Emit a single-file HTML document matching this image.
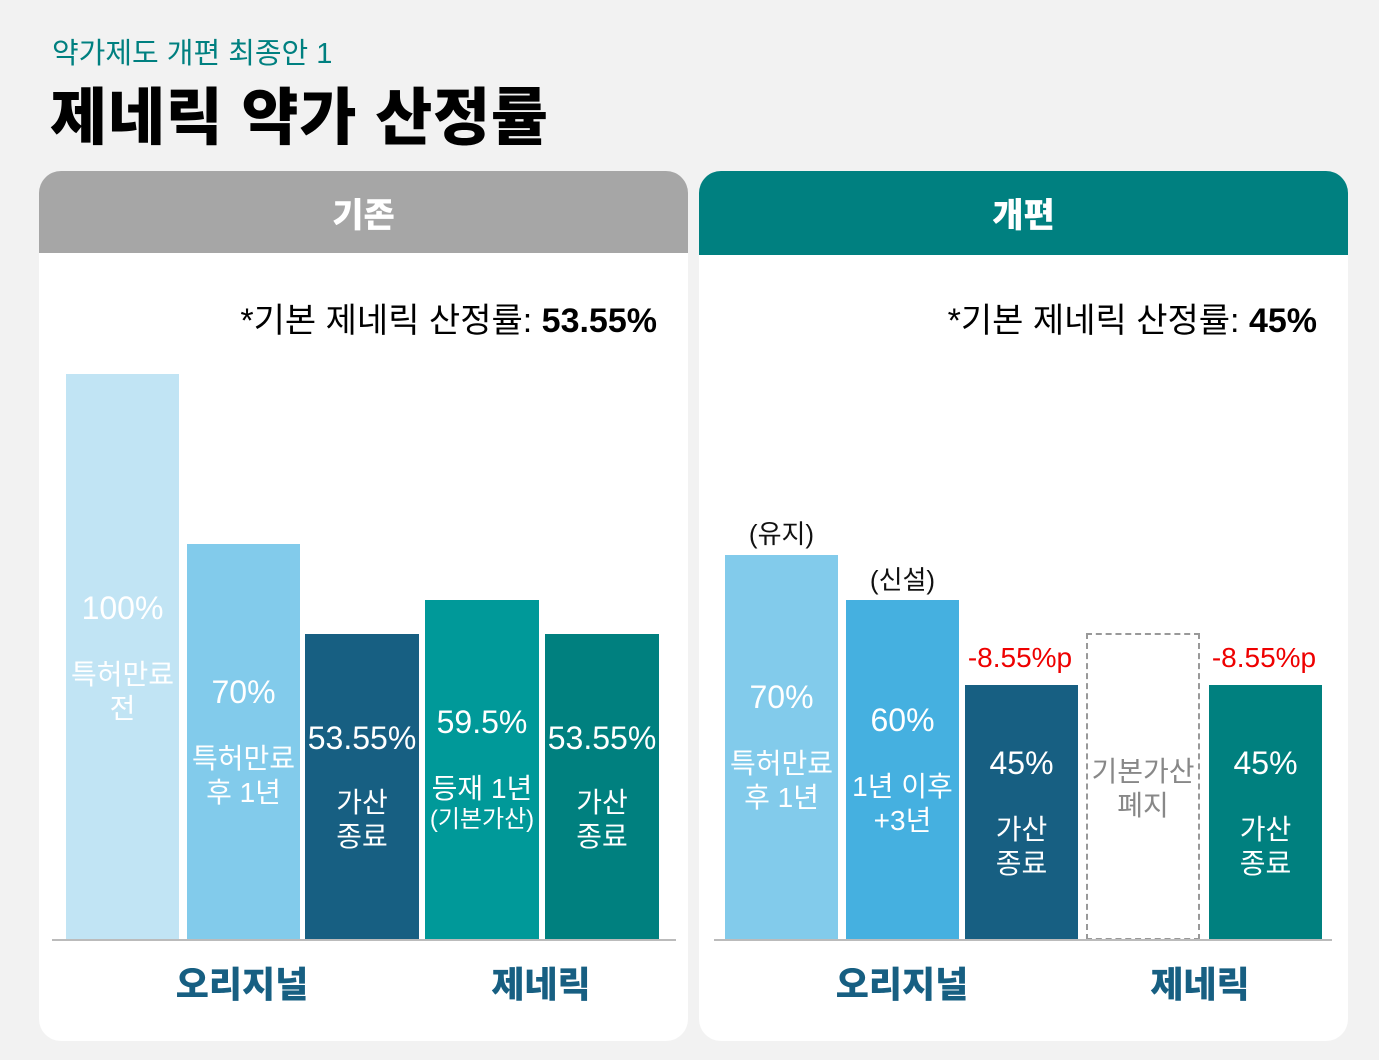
<!DOCTYPE html>
<html><head><meta charset="utf-8"><style>
*{margin:0;padding:0;box-sizing:border-box}
body{width:1379px;height:1060px;background:#f2f2f2;position:relative;overflow:hidden;font-family:"Liberation Sans","Noto Sans CJK KR",sans-serif}
.a{position:absolute}
.panel{position:absolute;top:171px;width:649px;height:870px;background:#fff;border-radius:22px;overflow:hidden}
.hdr{position:absolute;left:0;top:0;width:100%;color:#fff;font-weight:900;font-size:34px;text-align:center;padding-top:14px}
.bar{position:absolute;color:#fff;text-align:center}
.t{position:absolute;width:100%;left:0;text-align:center;white-space:nowrap;line-height:1}
.p{font-size:32px}
.s{font-size:28px;line-height:34px}
.note{position:absolute;font-size:34px;text-align:right;white-space:nowrap}
.base{position:absolute;top:768px;height:2px;background:#bbb}
.lab{position:absolute;top:785px;font-size:36px;font-weight:900;color:#175f82;text-align:center;width:240px}
.red{position:absolute;color:#e00;font-size:28px;text-align:center;width:130px;white-space:nowrap}
.blk{position:absolute;color:#111;font-size:26px;text-align:center;width:113px}
</style></head><body>
<div class="a" style="left:52px;top:30px;font-size:29px;color:#008080">약가제도 개편 최종안 1</div>
<div class="a" style="left:50px;top:67px;font-size:62px;font-weight:900;color:#000;letter-spacing:0.8px">제네릭 약가 산정률</div>

<div class="panel" style="left:39px">
 <div class="hdr" style="height:82px;line-height:62px;background:#a6a6a6">기존</div>
 <div class="note" style="right:31px;top:122px">*기본 제네릭 산정률: <b>53.55%</b></div>
 <div class="bar" style="left:27px;width:113px;top:203px;height:566px;background:#c1e4f4">
  <div class="t p" style="top:218px">100%</div><div class="t s" style="top:284px">특허만료<br>전</div></div>
 <div class="bar" style="left:148px;width:113px;top:373px;height:396px;background:#82cbeb">
  <div class="t p" style="top:132px">70%</div><div class="t s" style="top:198px">특허만료<br>후 1년</div></div>
 <div class="bar" style="left:266px;width:114px;top:463px;height:306px;background:#175f82">
  <div class="t p" style="top:88px">53.55%</div><div class="t s" style="top:152px">가산<br>종료</div></div>
 <div class="bar" style="left:386px;width:114px;top:429px;height:340px;background:#009999">
  <div class="t p" style="top:106px">59.5%</div><div class="t s" style="top:172px">등재 1년</div><div class="t" style="top:208px;font-size:24px">(기본가산)</div></div>
 <div class="bar" style="left:506px;width:114px;top:463px;height:306px;background:#00807f">
  <div class="t p" style="top:88px">53.55%</div><div class="t s" style="top:152px">가산<br>종료</div></div>
 <div class="base" style="left:13px;width:624px"></div>
 <div class="lab" style="left:83px">오리지널</div>
 <div class="lab" style="left:382px">제네릭</div>
</div>

<div class="panel" style="left:699px">
 <div class="hdr" style="height:84px;line-height:62px;background:#008080">개편</div>
 <div class="note" style="right:31px;top:122px">*기본 제네릭 산정률: <b>45%</b></div>
 <div class="blk" style="left:26px;top:343px">(유지)</div>
 <div class="bar" style="left:26px;width:113px;top:384px;height:385px;background:#82cbeb">
  <div class="t p" style="top:126px">70%</div><div class="t s" style="top:192px">특허만료<br>후 1년</div></div>
 <div class="blk" style="left:147px;top:389px">(신설)</div>
 <div class="bar" style="left:147px;width:113px;top:429px;height:340px;background:#45b0e0">
  <div class="t p" style="top:104px">60%</div><div class="t s" style="top:170px">1년 이후<br>+3년</div></div>
 <div class="red" style="left:256px;top:471px">-8.55%p</div>
 <div class="bar" style="left:266px;width:113px;top:514px;height:255px;background:#175f82">
  <div class="t p" style="top:62px">45%</div><div class="t s" style="top:128px">가산<br>종료</div></div>
 <div class="a" style="left:387px;top:462px;width:114px;height:307px;border:2px dashed #999;color:#888;text-align:center">
  <div class="t s" style="top:120px">기본가산<br>폐지</div></div>
 <div class="red" style="left:500px;top:471px">-8.55%p</div>
 <div class="bar" style="left:510px;width:113px;top:514px;height:255px;background:#00807f">
  <div class="t p" style="top:62px">45%</div><div class="t s" style="top:128px">가산<br>종료</div></div>
 <div class="base" style="left:15px;width:618px"></div>
 <div class="lab" style="left:83px">오리지널</div>
 <div class="lab" style="left:381px">제네릭</div>
</div>
</body></html>
